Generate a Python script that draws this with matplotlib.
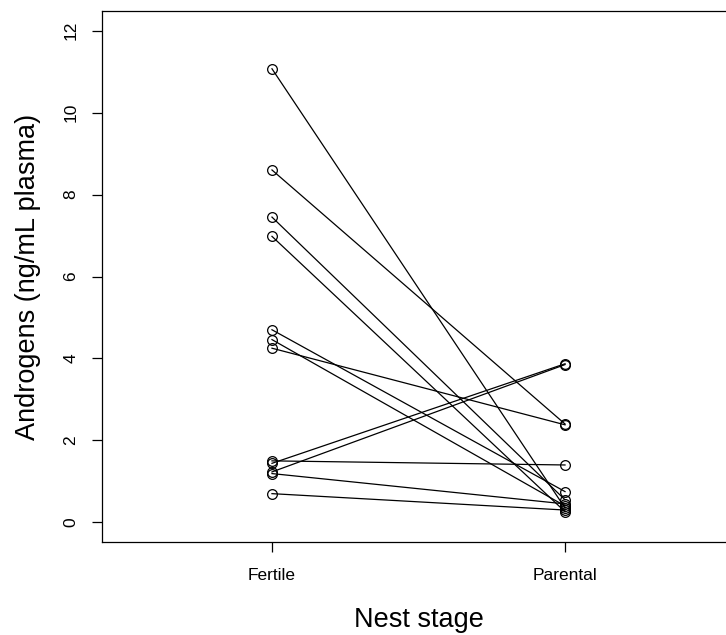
import matplotlib.pyplot as plt

plt.rcParams['font.family'] = ['Liberation Sans', 'DejaVu Sans']

# paired measurements per nest (Fertile -> Parental)
stages = ['Fertile', 'Parental']
fertile = [11.07, 8.60, 7.45, 6.98, 4.70, 4.46, 4.25, 1.50, 1.44, 1.23, 1.19, 0.70]
parental = [0.35, 2.40, 0.55, 0.26, 0.75, 0.40, 2.38, 1.40, 3.87, 3.85, 0.45, 0.30]
yticks = [0, 2, 4, 6, 8, 10, 12]

fig = plt.figure(figsize=(7.26, 6.35), dpi=100)
# right edge of the box lies just outside the image
ax = fig.add_axes([102 / 726, 1 - 542 / 635, (735 - 102) / 726, (542 - 11) / 635])

for f, p in zip(fertile, parental):
    ax.plot([1, 2], [f, p], color='black', lw=0.9, marker='o', ms=7,
            mfc='none', mec='black', mew=0.9)

ax.set_xlim(0.42, 2.58)
ax.set_ylim(-0.48, 12.48)
ax.set_xticks([1, 2])
ax.set_xticklabels(stages, fontsize=12.5)
ax.set_yticks(yticks)
ax.set_yticklabels([str(v) for v in yticks], fontsize=12.5, rotation=90, va='center')
ax.tick_params(direction='out', length=7, width=0.9, pad=12)
ax.tick_params(axis='y', pad=10)
for s in ax.spines.values():
    s.set_linewidth(0.9)
ax.spines['right'].set_visible(False)

ax.set_xlabel('Nest stage', fontsize=19.5, labelpad=17)
ax.set_ylabel('Androgens (ng/mL plasma)', fontsize=19.5, labelpad=16)

fig.savefig('out.png', dpi=100)
